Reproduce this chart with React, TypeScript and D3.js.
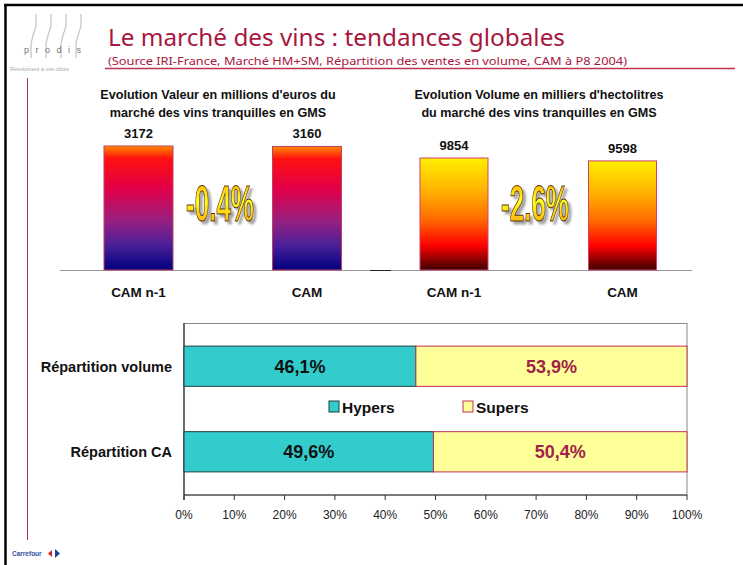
import React from "react";
import * as d3 from "d3";

const topCats = ["CAM n-1", "CAM"];
const valeurValues = [3172, 3160];
const volumeValues = [9854, 9598];
const valeurChange = "-0.4%";
const volumeChange = "-2.6%";
const valeurTitle = ["Evolution Valeur en millions d'euros du", "marché des vins tranquilles en GMS"];
const volumeTitle = ["Evolution Volume en milliers d'hectolitres", "du marché des vins tranquilles en GMS"];

const shareCats = ["Répartition volume", "Répartition CA"];
const hypersShare = [46.1, 49.6];
const supersShare = [53.9, 50.4];
const seriesNames = ["Hypers", "Supers"];
const xTicks = [0, 10, 20, 30, 40, 50, 60, 70, 80, 90, 100];

const mainTitle = "Le marché des vins : tendances globales";
const subTitle = "(Source IRI-France, Marché HM+SM, Répartition des ventes en volume, CAM à  P8 2004)";

const W = 743;
const H = 565;
const SANS = "'Liberation Sans', Arial, sans-serif";
const CRIMSON = "#A8173E";

const fmtComma = (v: number) => d3.format(".1f")(v).replace(".", ",") + "%";

function BigPct({ x, y, text, id }: { x: number; y: number; text: string; id: string }) {
  return (
    <text x={x} y={y} textAnchor="middle" fontFamily="'Liberation Sans Narrow', 'Liberation Sans', sans-serif" fontWeight="bold" fontSize={50} textLength={68} lengthAdjust="spacingAndGlyphs" fill={`url(#${id})`} stroke="#5a3200" strokeWidth={1} filter="url(#pctShadow)">{text}</text>
  );
}

function TopChart({ values, cats, centers, barW, yMax, yTopPx, gradId, title, titleX, change, changeX, stroke }: any) {
  const baseY = 270;
  const x = d3.scalePoint<string>().domain(cats).range(centers);
  const y = d3.scaleLinear().domain([0, yMax]).range([baseY, yTopPx]);
  return (
    <g>
      {title.map((t: string, i: number) => (
        <text key={i} x={titleX} y={99 + i * 18} textAnchor="middle" fontFamily={SANS} fontWeight="bold" fontSize={12.6} fill="#111">{t}</text>
      ))}
      {values.map((v: number, i: number) => {
        const cx = x(cats[i])!;
        return (
          <g key={i}>
            <rect x={cx - barW / 2} y={y(v)} width={barW} height={baseY - y(v)} fill={`url(#${gradId})`} stroke={stroke} strokeWidth={1} />
            <text x={cx} y={y(v) - 8} textAnchor="middle" fontFamily={SANS} fontWeight="bold" fontSize={13} fill="#111">{d3.format("d")(v)}</text>
            <text x={cx} y={297} textAnchor="middle" fontFamily={SANS} fontWeight="bold" fontSize={13.5} fill="#111">{cats[i]}</text>
          </g>
        );
      })}
      <BigPct x={changeX} y={221} text={change} id="pctGrad" />
    </g>
  );
}

export default function App() {
  const x = d3.scaleLinear().domain([0, 100]).range([184, 687]);
  const y = d3.scaleBand<string>().domain(shareCats).range([323, 495]).paddingInner(0.53).paddingOuter(0.27);
  const stackData = shareCats.map((c, i) => ({ cat: c, Hypers: hypersShare[i], Supers: supersShare[i] }));
  const stacked = d3.stack<any>().keys(seriesNames)(stackData);
  const segFill = ["#33CCCC", "#FFFF99"];
  const segStroke = ["#1f3f3f", "#C03050"];
  const segText = ["#111", "#A0234A"];

  return (
    <svg width={W} height={H} style={{ position: "absolute", left: 0, top: 0, background: "#fff" }} xmlns="http://www.w3.org/2000/svg">
      <defs>
        <linearGradient id="valGrad" x1="0" y1="0" x2="0" y2="1">
          <stop offset="0" stopColor="#FF8A00" />
          <stop offset="0.1" stopColor="#FF1010" />
          <stop offset="0.35" stopColor="#E0004A" />
          <stop offset="0.6" stopColor="#992080" />
          <stop offset="0.8" stopColor="#4A2099" />
          <stop offset="1" stopColor="#000080" />
        </linearGradient>
        <linearGradient id="volGrad" x1="0" y1="0" x2="0" y2="1">
          <stop offset="0" stopColor="#FFF000" />
          <stop offset="0.3" stopColor="#FFB000" />
          <stop offset="0.55" stopColor="#FF6A00" />
          <stop offset="0.78" stopColor="#FF0000" />
          <stop offset="1" stopColor="#3A0000" />
        </linearGradient>
        <linearGradient id="pctGrad" x1="0" y1="0" x2="0" y2="1">
          <stop offset="0" stopColor="#FF9A00" />
          <stop offset="0.45" stopColor="#FFFF20" />
          <stop offset="1" stopColor="#FF9000" />
        </linearGradient>
        <filter id="pctShadow" x="-20%" y="-20%" width="150%" height="150%">
          <feDropShadow dx="3" dy="3" stdDeviation="0.8" floodColor="#666" floodOpacity="0.6" />
        </filter>
      </defs>

      {/* page frame */}
      <line x1={4} y1={5} x2={W} y2={5} stroke="#000" strokeWidth={2.5} />
      <line x1={5.5} y1={4} x2={5.5} y2={H} stroke="#000" strokeWidth={2.5} />

      {/* prodis logo */}
      <g stroke="#c4c4c4" fill="none" strokeWidth={1.2}>
        {[0, 1, 2, 3].map((i) => (
          <path key={i} d={`M${36 + i * 15},14 L${36 + i * 15},26 Q${33 + i * 15},34 ${31 + i * 15},44 L${31 + i * 15},58`} />
        ))}
      </g>
      <text x={24} y={53} fontFamily={SANS} fontSize={9} fill="#777" letterSpacing={6.5}>prodis</text>
      <text x={10} y={71} fontFamily={SANS} fontSize={5.5} fill="#aaa">Résolument à vos côtés</text>

      {/* title */}
      <text x={108} y={46} fontFamily="'Noto Sans', sans-serif" fontSize={23.5} textLength={457} lengthAdjust="spacingAndGlyphs" fill={CRIMSON}>{mainTitle}</text>
      <text x={108} y={65} fontFamily="'Noto Sans', sans-serif" fontSize={11.5} textLength={519} lengthAdjust="spacingAndGlyphs" fill={CRIMSON}>{subTitle}</text>
      <line x1={105} y1={68.5} x2={735} y2={68.5} stroke="#C0304F" strokeWidth={1.5} />
      <line x1={27.5} y1={78} x2={27.5} y2={540} stroke="#B03050" strokeWidth={1} />

      {/* top baseline */}
      <line x1={60} y1={270.5} x2={692} y2={270.5} stroke="#999" strokeWidth={1} />
      <line x1={370} y1={270.5} x2={391} y2={270.5} stroke="#222" strokeWidth={1} />

      <TopChart values={valeurValues} cats={topCats} centers={[138.5, 307]} barW={69} yMax={3500} yTopPx={270 - (3500 * 124) / 3172}
        gradId="valGrad" title={valeurTitle} titleX={218} change={valeurChange} changeX={220} stroke="#C04060" />
      <TopChart values={volumeValues} cats={topCats} centers={[454, 622.5]} barW={68} yMax={11000} yTopPx={270 - (11000 * 112) / 9854}
        gradId="volGrad" title={volumeTitle} titleX={539} change={volumeChange} changeX={535} stroke="#D04070" />

      {/* bottom chart */}
      <rect x={184} y={323.5} width={503} height={171.5} fill="#fff" stroke="#888" strokeWidth={1} />
      <line x1={184} y1={323} x2={184} y2={500} stroke="#333" strokeWidth={1.2} />
      <line x1={184} y1={495} x2={687} y2={495} stroke="#333" strokeWidth={1} />
      {xTicks.map((t) => (
        <g key={t}>
          <line x1={x(t)} y1={495} x2={x(t)} y2={500} stroke="#333" strokeWidth={1} />
          <text x={x(t)} y={519} textAnchor="middle" fontFamily={SANS} fontSize={12} fill="#222">{t + "%"}</text>
        </g>
      ))}
      {stacked.map((series, si) =>
        series.map((d, i) => {
          const cat = shareCats[i];
          const x0 = x(d[0]);
          const x1 = x(d[1]);
          const by = y(cat)!;
          return (
            <g key={`${si}-${i}`}>
              <rect x={x0} y={by} width={x1 - x0} height={y.bandwidth()} fill={segFill[si]} stroke={segStroke[si]} strokeWidth={1} />
              <text x={(x0 + x1) / 2} y={by + y.bandwidth() / 2 + 6.5} textAnchor="middle" fontFamily={SANS} fontWeight="bold" fontSize={18} fill={segText[si]}>{fmtComma(d[1] - d[0])}</text>
            </g>
          );
        })
      )}
      {shareCats.map((c) => (
        <text key={c} x={172} y={y(c)! + y.bandwidth() / 2 + 5.5} textAnchor="end" fontFamily={SANS} fontWeight="bold" fontSize={14.5} fill="#111">{c}</text>
      ))}
      {/* legend */}
      {seriesNames.map((n, i) => (
        <g key={n} transform={`translate(${329 + i * 134},401)`}>
          <rect x={0} y={0} width={10} height={11} fill={segFill[i]} stroke={segStroke[i]} strokeWidth={1} />
          <text x={13} y={11.5} fontFamily={SANS} fontWeight="bold" fontSize={15.5} fill="#111">{n}</text>
        </g>
      ))}

      {/* carrefour footer */}
      <text x={12} y={556} fontFamily={SANS} fontWeight="bold" fontSize={6.5} fill="#3050A0">Carrefour</text>
      <path d="M52,550 L48,553.5 L52,557 Z" fill="#D02030" />
      <path d="M55,549 L55,558 L60,553.5 Z" fill="#2040A0" />
    </svg>
  );
}
